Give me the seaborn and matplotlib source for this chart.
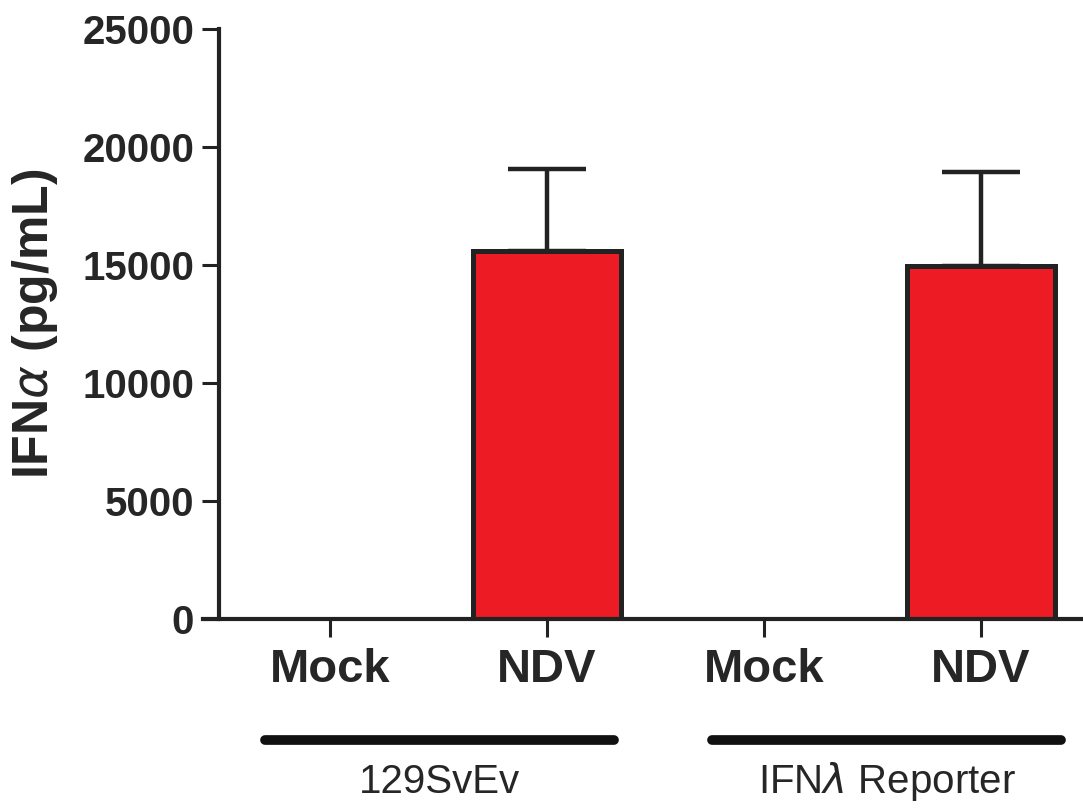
import matplotlib
matplotlib.use("Agg")
import matplotlib.pyplot as plt
import matplotlib.transforms as mtransforms
import pandas as pd
import seaborn as sns

# datos
condiciones = ["Mock", "NDV", "Mock", "NDV"]
cepas = ["129SvEv", "129SvEv", "IFN$\\lambda$ Reporter", "IFN$\\lambda$ Reporter"]
medias = [0, 15600, 0, 14950]
sem = [0, 3450, 0, 3980]

df = pd.DataFrame({
    "grupo": [c + " " + k for c, k in zip(cepas, condiciones)],
    "condicion": condiciones,
    "cepa": cepas,
    "ifn": medias,
    "sem": sem,
})
orden = list(df["grupo"])

sns.set_style("ticks")
plt.rcParams["font.family"] = ["Liberation Sans", "DejaVu Sans"]

fig = plt.figure(figsize=(10.83, 8.1), dpi=100)
ax = fig.add_axes([0.1874, 0.2358, 0.8126, 0.7284])

sns.barplot(data=df, x="grupo", y="ifn", order=orden, color="#ED1C24",
            width=0.68, edgecolor="#222222", linewidth=3.6, errorbar=None,
            saturation=1, ax=ax)

# las barras en cero no se ven en el original
for barra, valor in zip(ax.patches, medias):
    if valor == 0:
        barra.set_visible(False)

# barras de error solo hacia arriba (solo donde hay valor)
df["pos"] = range(len(df))
con_error = df[df["sem"] > 0]
ax.errorbar(con_error["pos"], con_error["ifn"],
            yerr=[[0] * len(con_error), list(con_error["sem"])], fmt="none",
            ecolor="#222222", elinewidth=3.2, capsize=28, capthick=3.2, zorder=1)

ax.set_ylim(0, 25000)
ax.set_yticks([0, 5000, 10000, 15000, 20000, 25000])
ax.set_xlim(-0.585, 3.47)
ax.spines["left"].set_bounds(0, 25000)
ax.spines["left"].set_position(("data", -0.51))
for s in ["left", "bottom"]:
    ax.spines[s].set_linewidth(3.0)
    ax.spines[s].set_color("#222222")
sns.despine(ax=ax, top=True, right=True)

ax.set_xticks(list(df["pos"]))
ax.set_xticklabels(condiciones, fontsize=34, fontweight="bold")
ax.tick_params(axis="x", length=13, width=2.2, pad=8, color="#222222")
ax.tick_params(axis="y", length=12, width=2.2, pad=6, color="#222222",
               labelsize=29)
for t in ax.get_yticklabels():
    t.set_fontweight("bold")

ax.set_xlabel("")
ax.set_ylabel("IFN$\\alpha$ (pg/mL)", fontsize=36, fontweight="bold", labelpad=16)

# líneas y etiquetas de los grupos
trans = mtransforms.blended_transform_factory(ax.transData, ax.transAxes)
grupos = [("129SvEv", -0.30, 1.31), ("IFN$\\lambda$ Reporter", 1.76, 3.37)]
for nombre, x0, x1 in grupos:
    ax.plot([x0, x1], [-0.205, -0.205], transform=trans, color="#111111",
            lw=7, solid_capstyle="round", clip_on=False)
    ax.text((x0 + x1) / 2, -0.276, nombre, transform=trans, ha="center",
            va="center", fontsize=29)

plt.savefig("out.png", dpi=100)
plt.close()
